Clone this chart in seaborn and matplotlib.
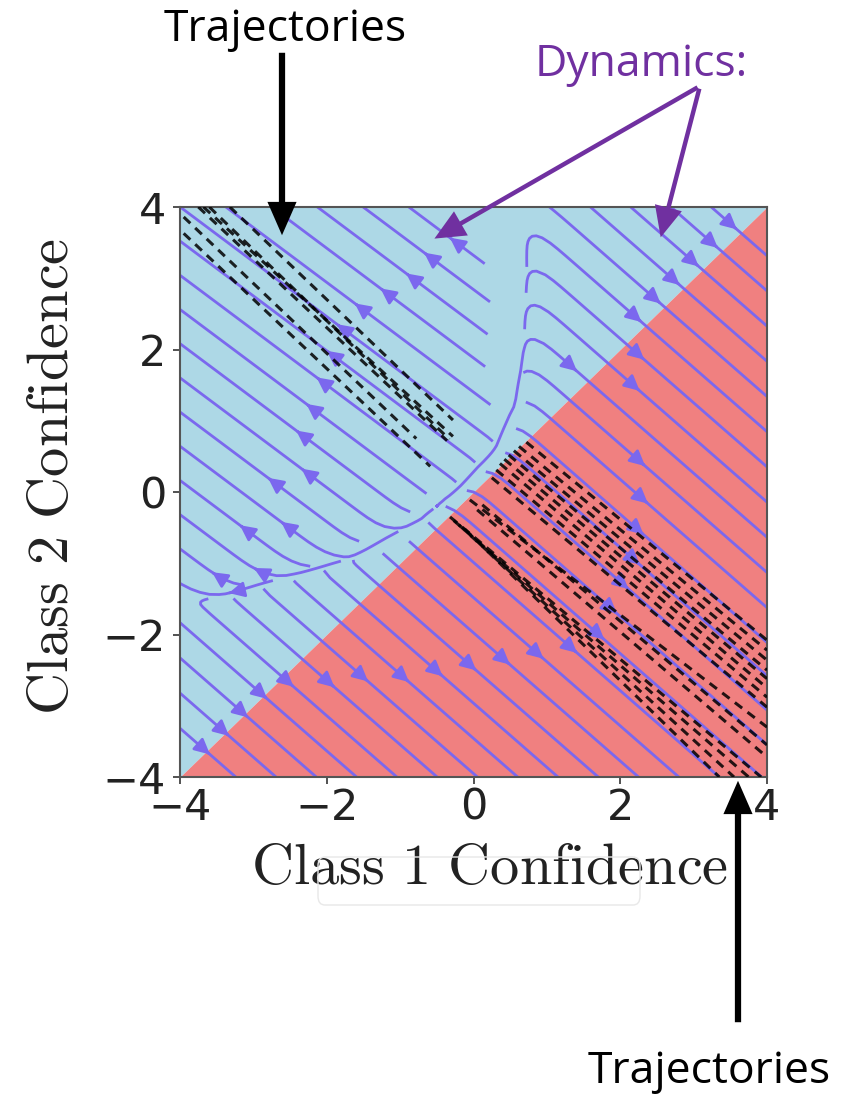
import numpy as np
import pandas as pd
import matplotlib
matplotlib.use("Agg")
import matplotlib.pyplot as plt
import seaborn as sns
from matplotlib.patches import FancyArrowPatch, FancyBboxPatch

# ---------------- data ----------------
# decision boundary (class 1 == class 2)
boundary_x = [-4.0, 4.0]
boundary_y = [-4.0, 4.0]

# separatrix of the learned dynamics
sep_x = [-4.6, -3.4, -1.7, -0.7, -0.2, 0.3, 0.55, 0.68, 0.72, 0.72]
sep_y = [-1.70, -1.45, -0.95, -0.38, 0.05, 0.60, 1.20, 2.00, 3.00, 4.60]
flow_right = [1.0, -0.90]   # direction right/below separatrix
flow_left = [-1.0, 0.77]    # direction left/above separatrix
split_y = -0.2              # where flow along separatrix changes sign

# trajectories (start x, start y, end x, end y)
traj_x0 = [-3.32, -3.68, -3.60, -3.75, -3.95, -3.95,
           0.72, 0.62, 0.55, 0.48, 0.42, 0.36, 0.31, 0.25,
           -0.05,
           -0.32, -0.27, -0.20, -0.12, 0.05, 0.12]
traj_y0 = [4.00, 4.00, 4.00, 4.00, 3.86, 3.63,
           0.70, 0.64, 0.58, 0.52, 0.46, 0.40, 0.31, 0.20,
           -0.11,
           -0.35, -0.40, -0.46, -0.52, -0.25, -0.18]
traj_x1 = [-0.28, -0.28, -0.33, -0.36, -0.78, -0.59,
           4.0, 4.0, 4.0, 4.0, 4.0, 4.0, 4.0, 4.0,
           4.0,
           3.92, 3.75, 3.55, 3.35, 4.0, 4.0]
traj_y1 = [1.01, 0.78, 0.74, 0.72, 0.75, 0.36,
           -2.08, -2.22, -2.36, -2.50, -2.62, -2.75, -2.88, -3.02,
           -3.30,
           -4.0, -4.0, -4.0, -4.0, -3.72, -3.55]

ticks = [-4, -2, 0, 2, 4]

# ---------------- style ----------------
sns.set_theme(style="white")
plt.rcParams["mathtext.fontset"] = "cm"
plt.rcParams["font.family"] = ["DejaVu Sans"]

BLUE = "#ADD8E6"
RED = "#F08080"
STREAM = "#7B68EE"
PURPLE = "#7030A0"

fig = plt.figure(figsize=(8.59, 10.95), dpi=100)
ax = fig.add_axes([180 / 859, 1 - 777 / 1095, 587 / 859, 570 / 1095])

# background regions
ax.fill_between(boundary_x, boundary_y, 4, color=BLUE, lw=0, zorder=0)
ax.fill_between(boundary_x, -4, boundary_y, color=RED, lw=0, zorder=0)

# ---------------- vector field ----------------
gx = np.linspace(-4, 4, 241)
gy = np.linspace(-4, 4, 241)
X, Y = np.meshgrid(gx, gy)
best_d = np.full(X.shape, np.inf)
tx = np.zeros(X.shape)
ty = np.zeros(X.shape)
yn = np.zeros(X.shape)
for i in range(len(sep_x) - 1):
    x0, y0, x1, y1 = sep_x[i], sep_y[i], sep_x[i + 1], sep_y[i + 1]
    dx, dy = x1 - x0, y1 - y0
    L2 = dx * dx + dy * dy
    t = np.clip(((X - x0) * dx + (Y - y0) * dy) / L2, 0, 1)
    nx, ny = x0 + t * dx, y0 + t * dy
    d = np.hypot(X - nx, Y - ny)
    m = d < best_d
    best_d[m] = d[m]
    tx[m] = dx / np.sqrt(L2)
    ty[m] = dy / np.sqrt(L2)
    yn[m] = ny[m]
sgn = np.sign(X - np.interp(Y, sep_y, sep_x))
sgn[sgn == 0] = 1
sd = sgn * best_d
s = np.tanh(sd / 0.2)
er = np.array(flow_right) / np.hypot(*flow_right)
el = np.array(flow_left) / np.hypot(*flow_left)
U = np.where(s > 0, s * er[0], -s * el[0])
V = np.where(s > 0, s * er[1], -s * el[1])
part = np.tanh((yn - split_y) / 0.15)
side = 0.5 * (1 + np.tanh(sd * np.sign(part + 1e-9) / 0.08))
g = 0.45 * part * side * np.exp(-(sd / 0.25) ** 2)
U = U + g * tx
V = V + g * ty
# quiet band just left of the upper separatrix
band = np.clip((yn - 0.7) * 0.7, 0, 0.5)
dead = (sd < -0.06) & (sd > -band)
U[dead] = 0.0
V[dead] = 0.0

# seeds: along the decision boundary and along a line left of the separatrix
sa = np.linspace(-3.9, 3.9, 31)
seed_a = np.column_stack([sa, sa])
sb = np.linspace(1, 0, 19)
seed_b = np.column_stack([-3.97 + sb * 4.4, -1.30 + sb * 5.25])
first = np.argmin(np.abs(sa - 1.5))
order_hi = [first] + [i for i in np.where(sa > -0.3)[0] if i != first]
seeds = np.vstack([seed_a[order_hi], seed_b[::2], seed_b[1::2],
                   seed_a[sa <= -0.3][::-1]])

ax.streamplot(gx, gy, U, V, density=2.0, start_points=seeds, color=STREAM,
              linewidth=2.0, arrowsize=2.3, zorder=2)

# ---------------- trajectories ----------------
rows = []
for k in range(len(traj_x0)):
    rows.append({"x": traj_x0[k], "y": traj_y0[k], "traj": k})
    rows.append({"x": traj_x1[k], "y": traj_y1[k], "traj": k})
df = pd.DataFrame(rows)
sns.lineplot(data=df, x="x", y="y", units="traj", estimator=None, sort=False,
             color="black", lw=2.2, linestyle=(0, (3, 2.2)), alpha=0.85,
             legend=False, ax=ax, zorder=3)

# ---------------- axes ----------------
ax.set_xlim(-4, 4)
ax.set_ylim(-4, 4)
ax.set_xticks(ticks)
ax.set_yticks(ticks)
ax.set_xticklabels([f"{t}".replace("-", "\u2212") for t in ticks])
ax.set_yticklabels([f"{t}".replace("-", "\u2212") for t in ticks])
ax.tick_params(axis="both", labelsize=31, length=5, width=1.2, direction="out",
               color="#333333", bottom=True, left=True, labelcolor="#222222")
ax.tick_params(axis="x", pad=2)
ax.tick_params(axis="y", pad=5)
for sp in ax.spines.values():
    sp.set_color("#555555")
    sp.set_linewidth(1.5)
ax.set_xlabel(r"$\mathrm{Class\ 1\ Confidence}$", fontsize=42, color="#222222")
ax.set_ylabel(r"$\mathrm{Class\ 2\ Confidence}$", fontsize=42, color="#222222")
ax.xaxis.set_label_coords(0.528, -0.108)
ax.yaxis.set_label_coords(-0.170, 0.528)

# faint box behind x label
fig.patches.append(FancyBboxPatch((318 / 859, 1 - 905 / 1095), 322 / 859, 48 / 1095,
                                  boxstyle="round,pad=0,rounding_size=0.008",
                                  transform=fig.transFigure, fc="none",
                                  ec="#e8e8e8", lw=1.0, zorder=0))

# ---------------- annotations ----------------
def fp(px, py):
    return (px / 859, 1 - py / 1095)

ann_font = ["Open Sans", "DejaVu Sans"]
fig.text(*fp(285, 41), "Trajectories", ha="center", va="baseline",
         fontsize=32, family=ann_font, color="black")
fig.text(*fp(641, 76), "Dynamics:", ha="center", va="baseline",
         fontsize=32, family=ann_font, color=PURPLE)
fig.text(*fp(709, 1083), "Trajectories", ha="center", va="baseline",
         fontsize=32, family=ann_font, color="black")

def arrow(p0, p1, color, tail, hw, hl):
    a = FancyArrowPatch(fp(*p0), fp(*p1), transform=fig.transFigure,
                        arrowstyle=f"simple,tail_width={tail},head_width={hw},head_length={hl}",
                        mutation_scale=10, color=color, lw=0, zorder=5)
    fig.patches.append(a)

arrow((282, 50), (282, 238), "black", 0.45, 2.1, 2.4)
arrow((738, 1025), (738, 778), "black", 0.45, 2.1, 2.4)
arrow((700, 86), (432, 240), PURPLE, 0.32, 2.0, 2.2)
arrow((700, 86), (660, 240), PURPLE, 0.32, 2.0, 2.2)

fig.savefig("out.png", dpi=100)
